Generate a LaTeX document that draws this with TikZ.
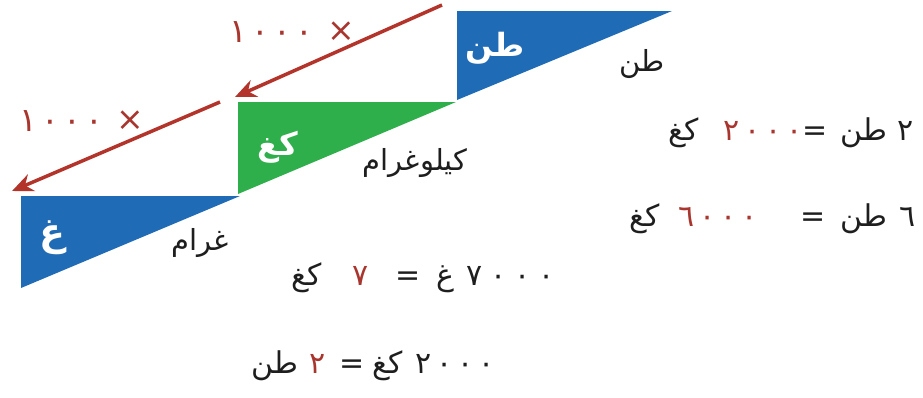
\documentclass[tikz,border=0pt]{standalone}
\usepackage{fontspec}
\newfontfamily\arabicfont[Script=Arabic]{DejaVu Sans}
\TeXXeTstate=1
\usetikzlibrary{arrows.meta}
\definecolor{tonblue}{HTML}{1F6BB6}
\definecolor{kggreen}{HTML}{2FAF4C}
\definecolor{arrred}{HTML}{B3342B}
\definecolor{numred}{HTML}{A8352E}
\definecolor{txt}{HTML}{1E1E1E}
\newcommand\digitrow[3]{\makebox[#3][c]{#1}\makebox[#3][c]{#2}\makebox[#3][c]{#2}\makebox[#3][c]{#2}}
\tikzset{
  conv/.style={draw=arrred, line width=3.5pt, -{Stealth[length=21pt,width=18pt]}},
  unitlbl/.style={font=\arabicfont\fontsize{29}{34}\selectfont, text=txt, inner sep=0pt},
  whitelbl/.style={font=\arabicfont\bfseries\fontsize{32}{38}\selectfont, text=white, inner sep=0pt},
  eqn/.style={font=\arabicfont\fontsize{30}{36}\selectfont, text=txt, inner sep=0pt, anchor=base},
  rednum/.style={eqn, text=numred},
  mult/.style={font=\arabicfont\fontsize{33}{38}\selectfont, text=numred, inner sep=0pt, anchor=base},
}
\begin{document}
\begin{tikzpicture}[x=1pt,y=-1pt]
\useasboundingbox (0,0) rectangle (923,397);
% triangle corners
\coordinate (tonTL) at (457,11);
\coordinate (tonTR) at (672,11);
\coordinate (tonBL) at (457,100);
\coordinate (kgTL) at (238,102);
\coordinate (kgTR) at (456,102);
\coordinate (kgBL) at (238,194);
\coordinate (gTL) at (21,196);
\coordinate (gTR) at (240,196);
\coordinate (gBL) at (21,288);
\fill[tonblue] (tonTL) -- (tonTR) -- (tonBL) -- cycle;
\fill[kggreen] (kgTL) -- (kgTR) -- (kgBL) -- cycle;
\fill[tonblue] (gTL) -- (gTR) -- (gBL) -- cycle;
% white symbols
\node[whitelbl] (wton) at (495,48) {\beginR طن\endR};
\node[whitelbl] (wkg) at (278,147) {\beginR كغ\endR};
\node[whitelbl, font=\arabicfont\bfseries\fontsize{38}{44}\selectfont] (wg) at (52,238) {\beginR غ\endR};
% unit names
\node[unitlbl] (lton) at (642,64) {\beginR طن\endR};
\node[unitlbl] (lkg) at (415,163) {\beginR كيلوغرام\endR};
\node[unitlbl] (lg) at (200,243) {\beginR غرام\endR};
% arrows
\coordinate (a1s) at (442,5);
\coordinate (a1e) at (235,97);
\coordinate (a2s) at (220,102);
\coordinate (a2e) at (12,191);
\draw[conv] (a1s) -- (a1e);
\draw[conv] (a2s) -- (a2e);
% x 1000 labels
\node[mult] (m1n) at (271,42) {\digitrow{١}{٠}{22pt}};
\node[mult] (m1x) at (341,41) {×};
\node[mult] (m2n) at (61,131) {\digitrow{١}{٠}{22pt}};
\node[mult] (m2x) at (130,130) {×};
% line 1
\node[eqn] (e1a) at (906,140) {٢};
\node[eqn] (e1b) at (864,140) {\beginR طن\endR};
\node[eqn] (e1c) at (815,140) {=};
\node[rednum] (e1d) at (763,140) {\digitrow{٢}{٠}{21pt}};
\node[eqn] (e1e) at (684,140) {\beginR كغ\endR};
% line 2
\node[eqn] (e2a) at (908,226) {٦};
\node[eqn] (e2b) at (864,226) {\beginR طن\endR};
\node[eqn] (e2c) at (813,226) {=};
\node[rednum] (e2d) at (718,226) {\digitrow{٦}{٠}{21pt}};
\node[eqn] (e2e) at (645,226) {\beginR كغ\endR};
% line 3
\node[eqn] (e3a) at (511,285) {\digitrow{٧}{٠}{24pt}};
\node[eqn] (e3b) at (445,285) {\beginR غ\endR};
\node[eqn] (e3c) at (408,285) {=};
\node[rednum] (e3d) at (361,285) {٧};
\node[eqn] (e3e) at (307,285) {\beginR كغ\endR};
% line 4
\node[eqn] (e4a) at (455,373) {\digitrow{٢}{٠}{21pt}};
\node[eqn] (e4b) at (388,373) {\beginR كغ\endR};
\node[eqn] (e4c) at (352,373) {=};
\node[rednum] (e4d) at (318,373) {٢};
\node[eqn] (e4e) at (275,373) {\beginR طن\endR};
\end{tikzpicture}
\end{document}
